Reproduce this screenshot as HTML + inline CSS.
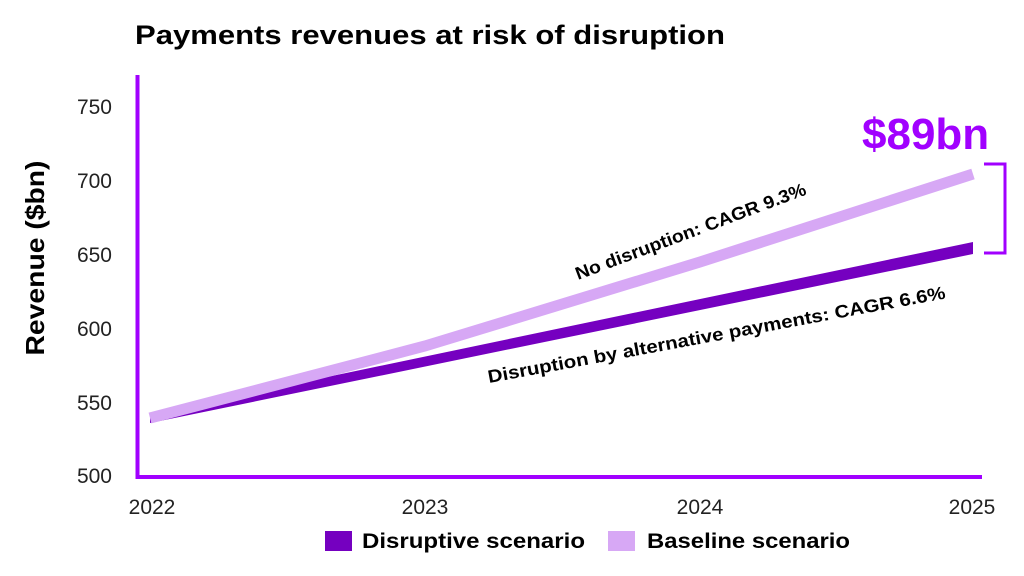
<!DOCTYPE html>
<html><head><meta charset="utf-8"><style>
html,body{margin:0;padding:0;background:#fff;}
svg{display:block;font-family:"Liberation Sans",sans-serif;}
</style></head><body>
<svg width="1024" height="576" viewBox="0 0 1024 576" xmlns="http://www.w3.org/2000/svg">
<rect width="1024" height="576" fill="#fff"/>
<text x="135" y="44" font-size="27" font-weight="bold" fill="#000" textLength="590" lengthAdjust="spacingAndGlyphs">Payments revenues at risk of disruption</text>
<g font-size="21" fill="#222" text-anchor="end">
<text x="112" y="114">750</text>
<text x="112" y="188">700</text>
<text x="112" y="262">650</text>
<text x="112" y="336">600</text>
<text x="112" y="410">550</text>
<text x="112" y="483">500</text>
</g>
<text transform="translate(44,258) rotate(-90)" font-size="26" font-weight="bold" text-anchor="middle" fill="#000" textLength="195" lengthAdjust="spacingAndGlyphs">Revenue ($bn)</text>
<g font-size="21" fill="#222" text-anchor="middle">
<text x="152" y="514">2022</text>
<text x="425" y="514">2023</text>
<text x="700" y="514">2024</text>
<text x="972" y="514">2025</text>
</g>
<path d="M137.5 75 V477 H982" fill="none" stroke="#a100ff" stroke-width="4"/>
<polygon points="150,414 973,242 973,254 150,423" fill="#7500c0"/>
<polyline points="150,418 425,346 700,262 973,174" fill="none" stroke="#d7a8f5" stroke-width="11"/>
<text x="862" y="149" font-size="44" font-weight="bold" fill="#a100ff">$89bn</text>
<path d="M984 164 H1005 V253 H984" fill="none" stroke="#a100ff" stroke-width="3"/>
<text transform="translate(578,280) rotate(-20.5)" font-size="18" font-weight="bold" fill="#000" textLength="245" lengthAdjust="spacingAndGlyphs">No disruption: CAGR 9.3%</text>
<text transform="translate(489,383) rotate(-10.5)" font-size="18" font-weight="bold" fill="#000" textLength="465" lengthAdjust="spacingAndGlyphs">Disruption by alternative payments: CAGR 6.6%</text>
<rect x="325" y="531" width="27" height="20" fill="#7500c0"/>
<text x="362" y="548" font-size="21" font-weight="bold" fill="#000" textLength="223" lengthAdjust="spacingAndGlyphs">Disruptive scenario</text>
<rect x="608" y="531" width="27" height="20" fill="#d7a8f5"/>
<text x="647" y="548" font-size="21" font-weight="bold" fill="#000" textLength="203" lengthAdjust="spacingAndGlyphs">Baseline scenario</text>
</svg>
</body></html>
